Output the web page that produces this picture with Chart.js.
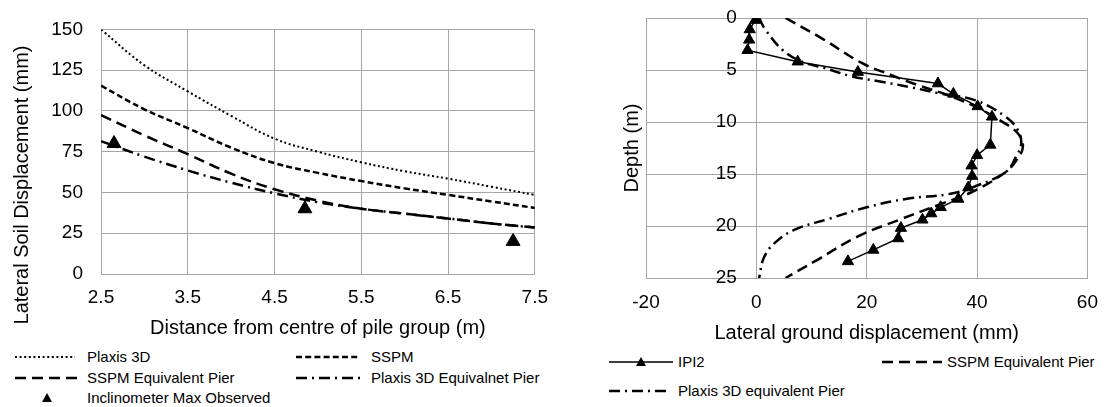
<!DOCTYPE html>
<html>
<head>
<meta charset="utf-8">
<script src="https://cdn.jsdelivr.net/npm/chart.js@4.4.1/dist/chart.umd.min.js"></script>
<style>
  body { margin: 0; background: #fff; width: 1111px; height: 407px; overflow: hidden;
         font-family: "Liberation Sans", Arial, sans-serif; }
  .box { position: absolute; top: 0; height: 345px; }
  .sw { position: absolute; overflow: visible; }
  .lt { position: absolute; font-size: 15px; line-height: 18px; color: #000; white-space: nowrap; }
</style>
</head>
<body>
<div class="box" style="left:0;width:560px"><canvas id="left"></canvas></div>
<div class="box" style="left:560px;width:551px"><canvas id="right"></canvas></div>

<!-- legend, left chart -->
<svg class="sw" style="left:15px;top:348px" width="60" height="18"><line x1="0" y1="9" x2="60" y2="9" stroke="#000" stroke-width="2" stroke-dasharray="2 2.6"/></svg>
<div class="lt" style="left:87px;top:348px">Plaxis 3D</div>
<svg class="sw" style="left:296px;top:348px" width="64" height="18"><line x1="0" y1="9" x2="64" y2="9" stroke="#000" stroke-width="2.5" stroke-dasharray="6 3.2"/></svg>
<div class="lt" style="left:371px;top:348px">SSPM</div>
<svg class="sw" style="left:15px;top:369px" width="62" height="18"><line x1="0" y1="9" x2="62" y2="9" stroke="#000" stroke-width="2.5" stroke-dasharray="11 6"/></svg>
<div class="lt" style="left:87px;top:369px">SSPM Equivalent Pier</div>
<svg class="sw" style="left:296px;top:369px" width="64" height="18"><line x1="0" y1="9" x2="64" y2="9" stroke="#000" stroke-width="2.5" stroke-dasharray="11 5 2 5"/></svg>
<div class="lt" style="left:371px;top:369px">Plaxis 3D Equivalnet Pier</div>
<svg class="sw" style="left:41px;top:389px" width="12" height="18"><polygon points="6,4 11,13 1,13" fill="#000"/></svg>
<div class="lt" style="left:87px;top:389px">Inclinometer Max Observed</div>

<!-- legend, right chart -->
<svg class="sw" style="left:609px;top:353px" width="64" height="18"><line x1="0" y1="9" x2="64" y2="9" stroke="#000" stroke-width="1.5"/><polygon points="32,4 37,13 27,13" fill="#000"/></svg>
<div class="lt" style="left:678px;top:353px">IPI2</div>
<svg class="sw" style="left:882px;top:353px" width="60" height="18"><line x1="0" y1="9" x2="60" y2="9" stroke="#000" stroke-width="2.5" stroke-dasharray="11 6"/></svg>
<div class="lt" style="left:947px;top:353px">SSPM Equivalent Pier</div>
<svg class="sw" style="left:609px;top:382px" width="62" height="18"><line x1="0" y1="9" x2="62" y2="9" stroke="#000" stroke-width="2.5" stroke-dasharray="11 5 2 5"/></svg>
<div class="lt" style="left:678px;top:382px">Plaxis 3D equivalent Pier</div>

<script>
// ---- left chart: lateral soil displacement vs distance ----
const distance   = [2.5, 3, 3.5, 4, 4.5, 5, 5.5, 6, 6.5, 7, 7.5];
const plaxis3D   = [150, 128, 112, 97, 83, 75, 68.5, 63, 58.5, 53.5, 48.5];
const sspm       = [115.5, 101, 89.5, 77.5, 68, 62, 57, 52.5, 48.5, 44.5, 40.5];
const sspmPier   = [97.5, 85, 73.5, 61.5, 52, 45, 40, 37, 34, 31, 28.5];
const plaxisPier = [81.5, 72, 63.5, 56, 49.5, 44, 40, 37, 34, 31, 28.5];
const inclinoDist = [2.65, 4.85, 7.25];
const inclinoMax  = [80, 40, 20];
const distTicks = [2.5, 3.5, 4.5, 5.5, 6.5, 7.5];
const dispTicks = [0, 25, 50, 75, 100, 125, 150];

// ---- right chart: depth profile ----
const ipi2Disp  = [-0.2, -1.2, -1.3, -1.6, 7.5, 18.4, 32.9, 35.7, 40.1, 42.7, 42.4, 40.0, 39.0, 39.1, 38.4, 36.6, 33.4, 31.7, 30.1, 26.2, 25.7, 21.2, 16.6];
const ipi2Depth = [0.2, 1.1, 2.1, 3.1, 4.2, 5.2, 6.3, 7.3, 8.5, 9.5, 12.2, 13.2, 14.2, 15.2, 16.3, 17.4, 18.2, 18.8, 19.4, 20.2, 21.2, 22.3, 23.4];
const sspmEqDisp  = [5.3, 12.0, 19.0, 24.5, 29.0, 34.6, 39.6, 44.0, 47.4, 48.3, 47.1, 45.2, 39.6, 33.4, 25.9, 18.4, 10.9, 5.3];
const sspmEqDepth = [0, 2.0, 4.3, 5.5, 6.4, 7.4, 8.5, 9.8, 11.1, 12.4, 13.7, 14.8, 16.6, 17.9, 19.4, 21.0, 23.3, 25];
const plaxEqDisp  = [0.5, 1.6, 4.8, 8.2, 12.3, 17.2, 22.4, 28.4, 32.7, 39.6, 45.2, 47.4, 48.0, 47.1, 45.2, 39.6, 35.2, 27.1, 20.0, 13.2, 7.2, 3.6, 1.4, 0.5];
const plaxEqDepth = [0, 1.1, 3.1, 4.2, 4.8, 5.6, 6.1, 6.7, 7.2, 7.9, 9.5, 10.8, 12.1, 13.3, 14.8, 16.2, 16.9, 17.4, 18.2, 19.3, 20.3, 21.5, 23.0, 25];
const lateralTicks = [-20, 0, 20, 40, 60];
const depthTicks = [0, 5, 10, 15, 20, 25];

const FONT = '"Liberation Sans", Arial, sans-serif';
Chart.defaults.font.family = FONT;
Chart.defaults.color = '#000';
const GRID = '#a6a6a6';

function pts(xs, ys) { return xs.map((x, i) => ({x: x, y: ys[i]})); }
function lineSet(label, xs, ys, dash, width, tension) {
  return { label: label, data: pts(xs, ys), showLine: true, borderColor: '#000', backgroundColor: '#000',
           borderWidth: width, borderDash: dash, pointRadius: 0, tension: tension, yAxisID: 'y' };
}
function fixedTicks(list) {
  return function(scale) { scale.ticks = list.map(v => ({value: v})); };
}

// y title of left chart sits lower than the plot centre in the original
const leftYTitle = {
  id: 'leftYTitle',
  afterDraw(chart) {
    const ctx = chart.ctx;
    ctx.save();
    ctx.translate(22, 185);
    ctx.rotate(-Math.PI / 2);
    ctx.font = '20px ' + FONT;
    ctx.fillStyle = '#000';
    ctx.textAlign = 'center';
    ctx.textBaseline = 'middle';
    ctx.fillText('Lateral Soil Displacement (mm)', 0, 0);
    ctx.restore();
  }
};

new Chart(document.getElementById('left'), {
  type: 'scatter',
  data: {
    datasets: [
      { label: 'Inclinometer Max Observed', data: pts(inclinoDist, inclinoMax), pointStyle: 'triangle',
        pointRadius: 8, backgroundColor: '#000', borderColor: '#000', borderWidth: 1, yAxisID: 'y' },
      lineSet('Plaxis 3D', distance, plaxis3D, [2, 2.6], 2, 0.4),
      lineSet('SSPM', distance, sspm, [6, 3.2], 2.5, 0.4),
      lineSet('SSPM Equivalent Pier', distance, sspmPier, [11, 6], 2.5, 0.4),
      lineSet('Plaxis 3D Equivalnet Pier', distance, plaxisPier, [11, 5, 2, 5], 2.5, 0.4)
    ]
  },
  options: {
    responsive: true, maintainAspectRatio: false, animation: false,
    layout: { padding: { left: 0, right: 23, top: 20, bottom: 0 } },
    plugins: { legend: { display: false }, tooltip: { enabled: false } },
    scales: {
      x: {
        type: 'linear', min: 2.5, max: 7.5,
        afterBuildTicks: fixedTicks(distTicks),
        afterFit: s => { s.height = 71; },
        ticks: { font: { size: 19 }, padding: 12, callback: v => v.toFixed(1) },
        grid: { color: GRID, drawTicks: false },
        border: { color: GRID },
        title: { display: true, text: 'Distance from centre of pile group (m)', font: { size: 20 }, padding: { top: 0, bottom: 5 } }
      },
      y: {
        type: 'linear', min: 0, max: 150,
        afterBuildTicks: fixedTicks(dispTicks),
        afterFit: s => { s.width = 101; },
        ticks: { font: { size: 19 }, padding: 18 },
        grid: { color: GRID, drawTicks: false },
        border: { color: GRID }
      }
    }
  },
  plugins: [leftYTitle]
});

new Chart(document.getElementById('right'), {
  type: 'scatter',
  data: {
    datasets: [
      Object.assign(lineSet('IPI2', ipi2Disp, ipi2Depth, [], 1.5, 0),
        { pointRadius: 6.5, pointStyle: 'triangle', pointBorderWidth: 1 }),
      lineSet('SSPM Equivalent Pier', sspmEqDisp, sspmEqDepth, [11, 6], 2.5, 0.4),
      lineSet('Plaxis 3D equivalent Pier', plaxEqDisp, plaxEqDepth, [11, 5, 2, 5], 2.5, 0.4)
    ]
  },
  options: {
    responsive: true, maintainAspectRatio: false, animation: false,
    layout: { padding: { left: 0, right: 14, top: 18, bottom: 0 } },
    plugins: { legend: { display: false }, tooltip: { enabled: false } },
    scales: {
      x: {
        type: 'linear', min: -20, max: 60,
        afterBuildTicks: fixedTicks(lateralTicks),
        afterFit: s => { s.height = 67; },
        ticks: { font: { size: 19 }, padding: 13 },
        grid: { color: GRID, drawTicks: false },
        border: { color: GRID },
        title: { display: true, text: 'Lateral ground displacement (mm)', font: { size: 20 }, padding: { top: 0, bottom: 0 } }
      },
      y: {
        type: 'linear', position: 'left', min: 0, max: 25, reverse: true,
        afterBuildTicks: fixedTicks(depthTicks),
        afterFit: s => { s.width = 86; },
        ticks: { display: false },
        grid: { color: GRID, drawTicks: false },
        border: { color: GRID },
        title: { display: true, text: 'Depth (m)', font: { size: 20 }, padding: { top: 60, bottom: 0 } }
      },
      // depth labels hang just left of the x = 0 line, as in the original
      yl: {
        type: 'linear', position: { x: -3.55 }, min: 0, max: 25, reverse: true,
        afterBuildTicks: fixedTicks(depthTicks),
        ticks: { font: { size: 19 }, padding: 0 },
        grid: { display: false, drawTicks: false },
        border: { display: false }
      }
    }
  }
});
</script>
</body>
</html>
